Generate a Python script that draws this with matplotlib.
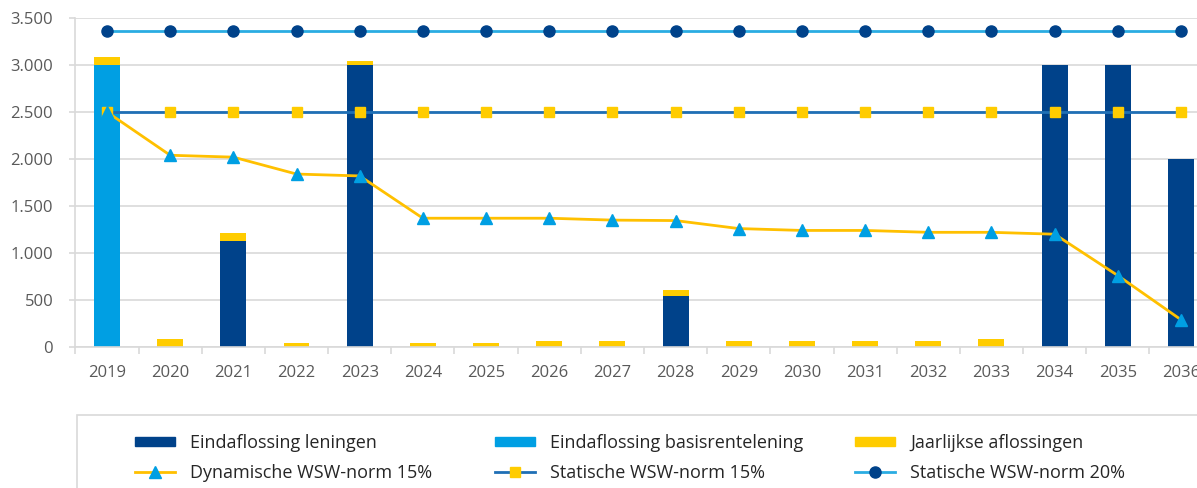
import matplotlib
matplotlib.use('Agg')
import matplotlib.pyplot as plt
from matplotlib.lines import Line2D
from matplotlib.patches import Patch, Rectangle
import numpy as np

plt.rcParams['font.family'] = ['Open Sans', 'DejaVu Sans']

years = ['2019', '2020', '2021', '2022', '2023', '2024', '2025', '2026', '2027',
         '2028', '2029', '2030', '2031', '2032', '2033', '2034', '2035', '2036']

eind_leningen = [0, 0, 1130, 0, 3000, 0, 0, 0, 0, 540, 0, 0, 0, 0, 0, 3000, 3000, 2000]
eind_basis = [3000, 0, 0, 0, 0, 0, 0, 0, 0, 0, 0, 0, 0, 0, 0, 0, 0, 0]
jaarlijks = [85, 80, 85, 40, 40, 40, 40, 60, 60, 70, 60, 60, 60, 60, 85, 0, 0, 0]

dyn_norm_15 = [2500, 2040, 2020, 1840, 1820, 1370, 1370, 1370, 1350, 1345,
               1260, 1240, 1240, 1220, 1220, 1200, 760, 290]
stat_norm_15 = [2500] * 18
stat_norm_20 = [3365] * 18

NAVY = '#00428a'
LIGHTBLUE = '#009fe3'
YELLOW = '#ffcc00'
GREY = '#595959'
GRID = '#d9d9d9'

fig = plt.figure(figsize=(11.97, 4.88), dpi=100)
ax = fig.add_axes([0.063, 0.289, 0.950, 0.674])

x = np.arange(len(years))
w = 0.41
len_ = np.array(eind_leningen)
bas = np.array(eind_basis)
ax.bar(x, len_, w, color=NAVY, zorder=2)
ax.bar(x, bas, w, bottom=len_, color=LIGHTBLUE, zorder=2)
ax.bar(x, jaarlijks, w, bottom=len_ + bas, color=YELLOW, zorder=2)

ax.plot(x, stat_norm_20, color='#2aace2', lw=2, marker='o', ms=8,
        mfc=NAVY, mec=NAVY, zorder=3)
ax.plot(x, stat_norm_15, color='#1f6fb5', lw=2, marker='s', ms=7,
        mfc=YELLOW, mec=YELLOW, zorder=3)
ax.plot(x, dyn_norm_15, color='#ffc000', lw=2, marker='^', ms=9,
        mfc=LIGHTBLUE, mec=LIGHTBLUE, zorder=4)

ax.set_xlim(-0.5, len(years) - 0.5)
ax.set_ylim(0, 3500)
yt = np.arange(0, 3501, 500)
ax.set_yticks(yt)
ax.set_yticklabels(['{:,}'.format(v).replace(',', '.') for v in yt])
ax.yaxis.grid(True, color=GRID, lw=1.2, zorder=0)
ax.tick_params(axis='y', colors=GRID, labelcolor=GREY, labelsize=12,
               length=4, width=1.2, pad=12)

ax.set_xticks(np.arange(-0.5, len(years), 1))
ax.set_xticklabels([])
ax.set_xticks(x, minor=True)
ax.set_xticklabels(years, minor=True)
ax.tick_params(axis='x', which='major', colors=GRID, length=5, width=1.2)
ax.tick_params(axis='x', which='minor', length=0, labelcolor=GREY,
               labelsize=12, pad=13)

for s in ['top', 'right']:
    ax.spines[s].set_visible(False)
for s in ['left', 'bottom']:
    ax.spines[s].set_color(GRID)
    ax.spines[s].set_linewidth(1.2)

# legend box runs off the figure, like the original
fig.patches.append(Rectangle((0.0643, -0.2), 1.0, 0.3496, transform=fig.transFigure,
                             fill=False, edgecolor=GRID, lw=1.2))

columns = [
    [(Patch(color=NAVY), 'Eindaflossing leningen'),
     (Line2D([], [], color='#ffc000', lw=2, marker='^', ms=9, mfc=LIGHTBLUE, mec=LIGHTBLUE),
      'Dynamische WSW-norm 15%')],
    [(Patch(color=LIGHTBLUE), 'Eindaflossing basisrentelening'),
     (Line2D([], [], color='#1f6fb5', lw=2, marker='s', ms=7, mfc=YELLOW, mec=YELLOW),
      'Statische WSW-norm 15%')],
    [(Patch(color=YELLOW), 'Jaarlijkse aflossingen'),
     (Line2D([], [], color='#2aace2', lw=2, marker='o', ms=8, mfc=NAVY, mec=NAVY),
      'Statische WSW-norm 20%')],
]
col_x = [135, 495, 855]
for cx, col in zip(col_x, columns):
    handles = [h for h, _ in col]
    labels = [l for _, l in col]
    fig.legend(handles, labels, loc='upper left',
               bbox_to_anchor=(cx / 1197, 1 - 434 / 488), frameon=False,
               fontsize=13, handlelength=2.2, handleheight=0.4,
               handletextpad=0.85, labelspacing=0.65, borderpad=0,
               borderaxespad=0, labelcolor='#262626')

fig.savefig('out.png', dpi=100)
